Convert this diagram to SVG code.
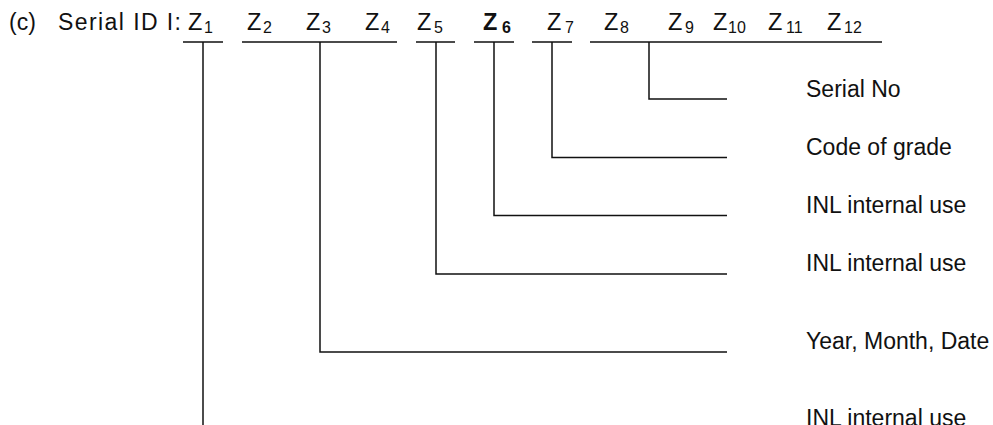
<svg xmlns="http://www.w3.org/2000/svg" width="993" height="425" viewBox="0 0 993 425">
<style>
text{font-family:"Liberation Sans",Arial,sans-serif;fill:#111;}
.t{font-size:23px;}
.z{font-size:23.5px;}
.s{font-size:16px;}
.b{font-weight:bold;}
.ln{stroke:#111;stroke-width:1.5;fill:none;}
</style>
<rect width="993" height="425" fill="#fff"/>
<g id="title">
<text class="t" x="9" y="30">(c)</text>
<text class="t" x="58" y="30" textLength="123" lengthAdjust="spacing">Serial ID I:</text>
</g>
<g id="fields">
<g id="z1"><text class="z" x="188" y="30">Z</text><text class="s" x="204" y="33">1</text></g>
<g id="z2"><text class="z" x="247" y="30">Z</text><text class="s" x="263" y="33">2</text></g>
<g id="z3"><text class="z" x="306" y="30">Z</text><text class="s" x="322" y="33">3</text></g>
<g id="z4"><text class="z" x="365" y="30">Z</text><text class="s" x="381" y="33">4</text></g>
<g id="z5"><text class="z" x="417" y="30">Z</text><text class="s" x="434" y="33">5</text></g>
<g id="z6"><text class="z b" x="483" y="30">Z</text><text class="s b" x="502" y="33">6</text></g>
<g id="z7"><text class="z" x="547" y="30">Z</text><text class="s" x="565" y="33">7</text></g>
<g id="z8"><text class="z" x="604" y="30">Z</text><text class="s" x="620" y="33">8</text></g>
<g id="z9"><text class="z" x="668" y="30">Z</text><text class="s" x="685" y="33">9</text></g>
<g id="z10"><text class="z" x="713" y="30">Z</text><text class="s" x="728" y="33">10</text></g>
<g id="z11"><text class="z" x="768" y="30">Z</text><text class="s" x="786" y="33">11</text></g>
<g id="z12"><text class="z" x="827" y="30">Z</text><text class="s" x="844" y="33">12</text></g>
</g>
<g id="labels">
<g id="serial-no"><text class="t" x="806" y="97">Serial No</text></g>
<g id="code-of-grade"><text class="t" x="806" y="155">Code of grade</text></g>
<g id="inl-1"><text class="t" x="806" y="213">INL internal use</text></g>
<g id="inl-2"><text class="t" x="806" y="271">INL internal use</text></g>
<g id="ymd"><text class="t" x="806" y="349">Year, Month, Date</text></g>
<g id="inl-3"><text class="t" x="806" y="426">INL internal use</text></g>
</g>
<g id="connectors" class="ln">
<path d="M183 42H223M242 42H397M416 42H455M474 42H514M532 42H572M590 42H882"/>
<path d="M649 42V99H727"/>
<path d="M552 42V157.5H727"/>
<path d="M494 42V215.5H727"/>
<path d="M436 42V274H727"/>
<path d="M320 42V352H727"/>
<path d="M203 42V425"/>
</g>
</svg>
